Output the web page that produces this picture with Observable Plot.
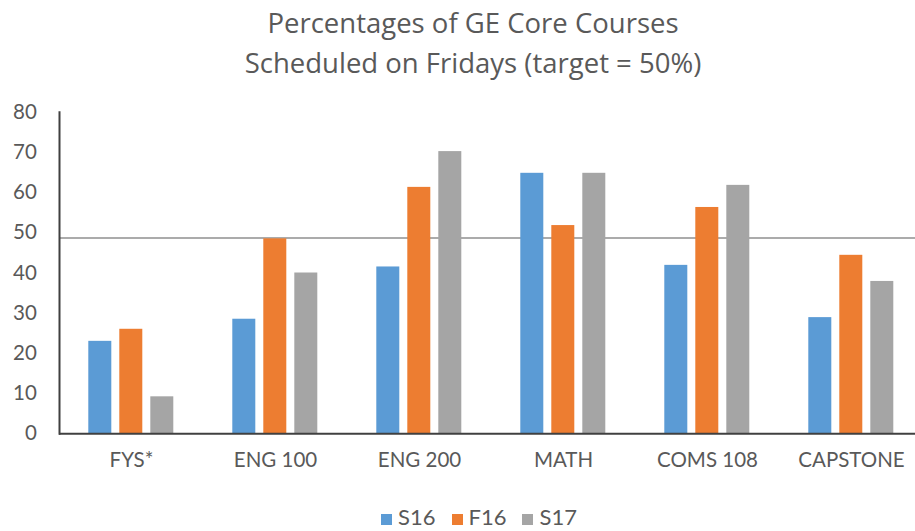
<!DOCTYPE html>
<html>
<head>
<meta charset="utf-8">
<script src="https://cdn.jsdelivr.net/npm/d3@7"></script>
<script src="https://cdn.jsdelivr.net/npm/@observablehq/plot@0.6"></script>
<style>
  body { margin: 0; background: #fff; font-family: Lato, "Open Sans", sans-serif; }
  #wrap { width: 915px; height: 531px; overflow: hidden; position: relative; }
  #title { height: 90px; box-sizing: border-box; padding-top: 3px; padding-left: 31px; text-align: center; color: #595959; font-family: "Open Sans", Lato, sans-serif; font-size: 27.5px; line-height: 39.5px; }
  #legend { position: absolute; left: 0; top: 505px; width: 915px; text-align: center; font-size: 22px; color: #595959; line-height: 24px; padding-left: 43px; box-sizing: border-box; }
  #legend span.item { display: inline-block; margin: 0 8px; }
  #legend span.sw { display: inline-block; width: 11px; height: 11px; margin-right: 6px; vertical-align: 0px; }
</style>
</head>
<body>
<div id="wrap">
  <div id="title"><div>Percentages of GE Core Courses</div><div>Scheduled on Fridays (target = 50%)</div></div>
  <div id="chart"></div>
  <div id="legend"></div>
</div>
<script>
const categories = ["FYS*", "ENG 100", "ENG 200", "MATH", "COMS 108", "CAPSTONE"];
const seriesNames = ["S16", "F16", "S17"];
const S16 = [23, 28.5, 41.5, 64.8, 41.9, 28.9];
const F16 = [26, 48.5, 61.3, 51.8, 56.3, 44.4];
const S17 = [9.2, 40, 70.2, 64.8, 61.8, 37.9];
const target = [48.7];
const yTicks = [0, 10, 20, 30, 40, 50, 60, 70, 80];
const colors = ["#5B9BD5", "#ED7D31", "#A5A5A5"];

const seriesValues = [S16, F16, S17];
const data = [];
categories.forEach((c, i) => {
  seriesNames.forEach((s, j) => data.push({category: c, series: s, value: seriesValues[j][i]}));
});

const chart = Plot.plot({
  width: 915,
  height: 400,
  marginTop: 21.7,
  marginBottom: 56.7,
  marginLeft: 57.7,
  marginRight: -10.3,
  style: {fontFamily: "Lato, 'Open Sans', sans-serif", color: "#595959", background: "transparent"},
  fx: {domain: categories, padding: 0, label: null},
  x: {domain: seriesNames, paddingInner: 0.25, paddingOuter: 0.884, axis: null},
  y: {domain: [0, 80], axis: null},
  color: {domain: seriesNames, range: colors},
  marks: [
    Plot.axisFx({anchor: "bottom", tickSize: 0, tickPadding: 19, fontSize: 20.5, label: null, fill: "#595959"}),
    Plot.axisY({ticks: yTicks, tickSize: 0, tickPadding: 22.7, fontSize: 20.5, label: null, fill: "#595959", facetAnchor: "left"}),
    Plot.ruleY(target, {stroke: "#ABABAB", strokeWidth: 2}),
    Plot.barY(data, {fx: "category", x: "series", y: "value", fill: "series"}),
    Plot.ruleY([0], {stroke: "#404040", strokeWidth: 2}),
    Plot.frame({anchor: "left", stroke: "#404040", strokeWidth: 2, facetAnchor: "left"})
  ]
});
document.getElementById("chart").appendChild(chart);

const legend = document.getElementById("legend");
seriesNames.forEach((s, j) => {
  const item = document.createElement("span");
  item.className = "item";
  const sw = document.createElement("span");
  sw.className = "sw";
  sw.style.background = colors[j];
  item.appendChild(sw);
  item.appendChild(document.createTextNode(s));
  legend.appendChild(item);
});
</script>
</body>
</html>
